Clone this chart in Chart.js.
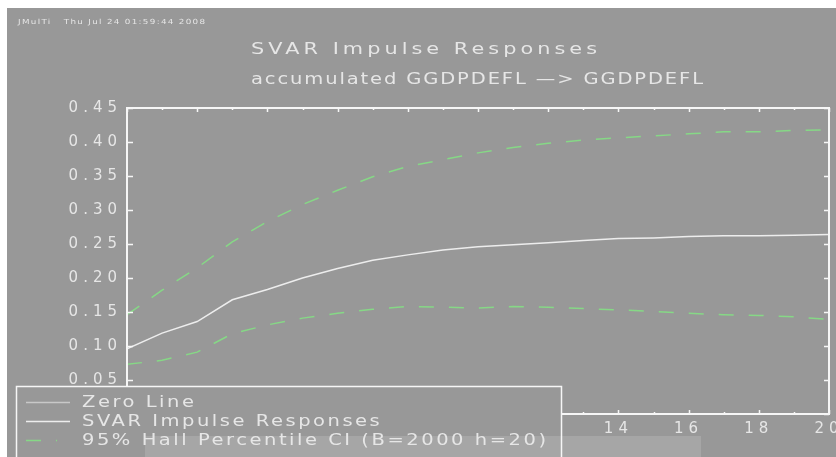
<!DOCTYPE html>
<html><head><meta charset="utf-8">
<script src="https://cdn.jsdelivr.net/npm/chart.js@4.4.1/dist/chart.umd.min.js"></script>
<style>html,body{margin:0;padding:0;background:#fff;overflow:hidden}#wrap{width:836px;height:457px;position:relative}</style>
</head><body><div id="wrap"><canvas id="c" width="836" height="457"></canvas></div>
<script>
// ---- data ----
const steps     = [0,1,2,3,4,5,6,7,8,9,10,11,12,13,14,15,16,17,18,19,20];
const zeroLine  = [0,0,0,0,0,0,0,0,0,0,0,0,0,0,0,0,0,0,0,0,0];
const svar      = [0.096,0.119,0.136,0.168,0.183,0.200,0.214,0.226,0.234,0.241,0.246,0.249,0.252,0.255,0.258,0.259,0.261,0.262,0.262,0.263,0.264];
const ciUpper   = [0.146,0.182,0.215,0.253,0.283,0.308,0.329,0.349,0.364,0.374,0.384,0.392,0.398,0.403,0.406,0.409,0.412,0.415,0.415,0.417,0.418];
const ciLower   = [0.073,0.079,0.091,0.118,0.131,0.141,0.148,0.154,0.158,0.157,0.156,0.158,0.157,0.155,0.153,0.151,0.148,0.146,0.145,0.143,0.139];
const yTickVals = [0,0.05,0.10,0.15,0.20,0.25,0.30,0.35,0.40,0.45];
const xTickVals = [0,2,4,6,8,10,12,14,16,18,20];
const titleText    = 'SVAR Impulse Responses';
const subtitleText = 'accumulated GGDPDEFL \u2014> GGDPDEFL';
const stampText    = 'JMulTi   Thu Jul 24 01:59:44 2008';
const seriesNames  = ['Zero Line','SVAR Impulse Responses','95% Hall Percentile CI (B=2000 h=20)'];

// ---- style ----
const W = 836, H = 457;
const BG = '#989898', TXT = '#e6e6e6', AX = '#f6f6f6';
const GREEN = '#86d886', ZERO = '#c8c8c8', SV = '#ededed';
const FONT = '"DejaVu Sans", sans-serif';

function pts(arr){ return steps.map((s,i)=>({x:s,y:arr[i]})); }

// draws text stretched horizontally by k, letter-spaced so it spans targetW (or uses given spacing)
function drawSpaced(ctx, text, x, y, font, k, targetW, spacing){
  ctx.save();
  ctx.font = font; ctx.letterSpacing = '0px';
  const n = [...text].length;
  let s = spacing;
  if (s === undefined){ const w0 = ctx.measureText(text).width; s = n>1 ? (targetW / k - w0)/(n-1) : 0; }
  ctx.letterSpacing = s + 'px';
  ctx.textAlign = 'left'; ctx.textBaseline = 'middle';
  ctx.translate(x, y); ctx.scale(k, 1);
  ctx.fillText(text, 0, 0);
  ctx.restore();
  return s;
}

const deco = {
  id: 'deco',
  beforeDraw(chart){
    const ctx = chart.ctx;
    ctx.save();
    ctx.fillStyle = '#ffffff'; ctx.fillRect(0,0,W,H);
    ctx.fillStyle = BG; ctx.fillRect(7,8,W-7,H-8);
    ctx.restore();
    ctx.letterSpacing = '5px';
  },
  afterDatasetsDraw(chart){
    const ctx = chart.ctx, a = chart.chartArea, xs = chart.scales.x, ys = chart.scales.y;
    ctx.save();
    ctx.letterSpacing = '0px';
    ctx.strokeStyle = AX; ctx.lineWidth = 2;
    ctx.strokeRect(a.left, a.top, a.right - a.left, a.bottom - a.top);
    ctx.lineWidth = 1.5;
    ctx.beginPath();
    for (let v = xs.min; v <= xs.max; v++){
      const px = Math.round(xs.getPixelForValue(v)) + 0.5;
      const len = (v % 2 === 0) ? 4 : 2;
      ctx.moveTo(px, a.top); ctx.lineTo(px, a.top + len);
      ctx.moveTo(px, a.bottom); ctx.lineTo(px, a.bottom - len);
    }
    ys.ticks.forEach(t=>{
      const py = Math.round(ys.getPixelForValue(t.value)) + 0.5;
      ctx.moveTo(a.left, py); ctx.lineTo(a.left + 6, py);
      ctx.moveTo(a.right, py); ctx.lineTo(a.right - 5, py);
    });
    ctx.stroke();
    ctx.restore();
  },
  afterDraw(chart){
    const ctx = chart.ctx;
    const ds = chart.data.datasets;
    ctx.save();
    ctx.letterSpacing = '0px';
    ctx.fillStyle = TXT;
    drawSpaced(ctx, stampText, 18, 22, '7px ' + FONT, 1.25, 187);
    drawSpaced(ctx, titleText, 251, 50, '16px ' + FONT, 1.3, 346);
    drawSpaced(ctx, subtitleText, 251, 80, '15px ' + FONT, 1.3, 452);
    // legend box
    ctx.fillStyle = BG; ctx.fillRect(16, 386, 546, H - 386);
    ctx.fillStyle = '#a6a6a6'; ctx.fillRect(145, 436, 556, H - 436);
    ctx.strokeStyle = AX; ctx.lineWidth = 1.5;
    ctx.beginPath();
    ctx.moveTo(16.5, H); ctx.lineTo(16.5, 386.5); ctx.lineTo(561.5, 386.5); ctx.lineTo(561.5, H);
    ctx.stroke();
    const rows = [402.5, 421.5, 440.5];
    const k = 1.3, lf = '15px ' + FONT;
    ctx.font = lf; ctx.letterSpacing = '0px';
    const w0 = ctx.measureText(seriesNames[2]).width;
    const sp = (464 / k - w0) / ([...seriesNames[2]].length - 1);
    [ds[0], ds[1], ds[2]].forEach((d, i)=>{
      ctx.save();
      ctx.strokeStyle = d.borderColor; ctx.lineWidth = d.borderWidth;
      ctx.setLineDash(d.borderDash || []);
      ctx.beginPath(); ctx.moveTo(26, rows[i]); ctx.lineTo(i === 2 ? 57 : 70, rows[i]); ctx.stroke();
      ctx.restore();
      ctx.fillStyle = TXT;
      drawSpaced(ctx, seriesNames[i], 82, rows[i] + 1, lf, k, 0, sp);
    });
    ctx.restore();
  }
};

new Chart(document.getElementById('c'), {
  type: 'line',
  data: {
    datasets: [
      { label: seriesNames[0], data: pts(zeroLine), borderColor: ZERO, borderWidth: 1.5, pointRadius: 0, tension: 0 },
      { label: seriesNames[1], data: pts(svar),     borderColor: SV,   borderWidth: 1.5, pointRadius: 0, tension: 0 },
      { label: seriesNames[2], data: pts(ciUpper),  borderColor: GREEN, borderWidth: 1.5, borderDash: [15,15], pointRadius: 0, tension: 0 },
      { label: seriesNames[2] + ' ', data: pts(ciLower), borderColor: GREEN, borderWidth: 1.5, borderDash: [15,15], pointRadius: 0, tension: 0 }
    ]
  },
  options: {
    responsive: false, animation: false, devicePixelRatio: 1,
    layout: { padding: { left: 0, top: 108, right: 7, bottom: 0 } },
    plugins: { legend: { display: false }, title: { display: false }, tooltip: { enabled: false } },
    scales: {
      x: {
        type: 'linear', min: 0, max: 20,
        afterBuildTicks: s => { s.ticks = xTickVals.map(v => ({ value: v })); },
        afterFit: s => { s.height = 43; s.paddingLeft = 0; s.paddingRight = 0; },
        grid: { display: false, drawTicks: false }, border: { display: false },
        ticks: { autoSkip: false, maxRotation: 0, padding: 6, color: TXT, font: { family: FONT, size: 15 } }
      },
      y: {
        type: 'linear', min: 0, max: 0.45,
        afterBuildTicks: s => { s.ticks = yTickVals.map(v => ({ value: v })); },
        afterFit: s => { s.width = 127; s.paddingTop = 0; s.paddingBottom = 0; },
        grid: { display: false, drawTicks: false }, border: { display: false },
        ticks: { padding: 5, color: TXT, font: { family: FONT, size: 15 }, callback: v => Number(v).toFixed(2) }
      }
    }
  },
  plugins: [deco]
});
</script></body></html>
